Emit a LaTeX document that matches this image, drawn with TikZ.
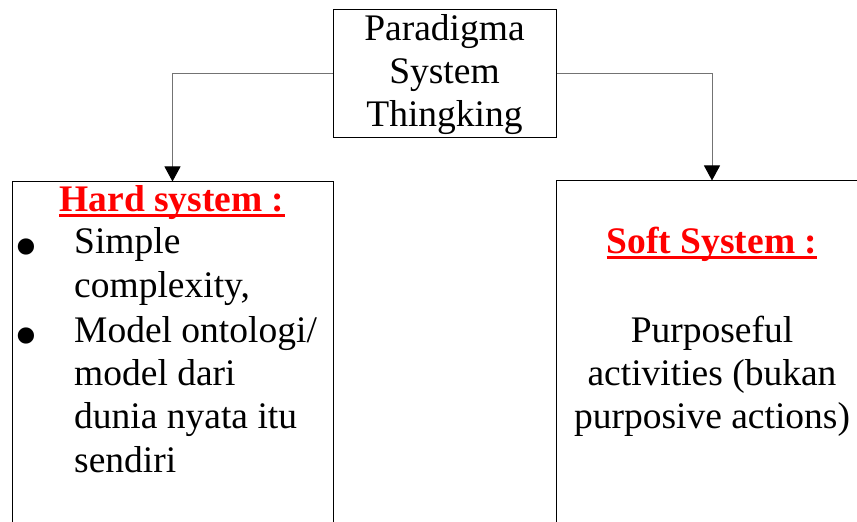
\documentclass[tikz,border=0pt]{standalone}
\usepackage{fontspec}
\setmainfont{Liberation Serif}
\usetikzlibrary{arrows.meta}
\tikzset{
	box/.style = {draw, line width = 1pt, inner sep = 0pt},
	txt/.style = {inner sep = 0pt, font = \fontsize{37.5}{43.5}\selectfont},
	head/.style = {txt, text = red, font = \fontsize{37.5}{43.5}\selectfont\bfseries},
	dot/.style = {inner sep = 0pt, font = \fontsize{68}{68}\selectfont},
	uline/.style = {draw = red, line width = 3pt},
	link/.style = {draw = gray!90!black, line width = 1pt, -{Triangle[width = 16pt, length = 15pt, color = black]}}
}
\begin{document}
\begin{tikzpicture}[x = 1pt, y = 1pt]
		\useasboundingbox (0,0) rectangle (857,522);
		% boxes
		\node[box, minimum width = 223pt, minimum height = 128pt] (paradigma) at (444.5,448.2) {};
		\node[box, minimum width = 321pt, minimum height = 400pt] (hard) at (172.5,140) {};
		\node[box, minimum width = 312pt, minimum height = 400pt] (soft) at (712,141) {};
		\draw[link] (paradigma.west) -| (hard.north);
		\draw[link] (paradigma.east) -| (soft.north);
		% top box
		\node[txt, anchor = base] (t1) at (444.5,481) {Paradigma};
		\node[txt, anchor = base] (t2) at (444.5,438) {System};
		\node[txt, anchor = base] (t3) at (444.5,395) {Thingking};
		% hard system
		\node[head, anchor = base] (hardhead) at (172,310) {Hard system :};
		\draw[uline] ([yshift = -4pt]hardhead.base west) -- ([yshift = -4pt]hardhead.base east);
		\node[dot] (b1) at (26,268) {\textbullet};
		\node[dot] (b2) at (26,179) {\textbullet};
		\node[txt, anchor = base west] (h1) at (74,268) {Simple};
		\node[txt, anchor = base west] (h2) at (74,224) {complexity,};
		\node[txt, anchor = base west] (h3) at (74,179) {Model ontologi/};
		\node[txt, anchor = base west] (h4) at (74,136) {model dari};
		\node[txt, anchor = base west] (h5) at (74,93) {dunia nyata itu};
		\node[txt, anchor = base west] (h6) at (74,49) {sendiri};
		% soft system
		\node[head, anchor = base] (softhead) at (712,268) {Soft System :};
		\draw[uline] ([yshift = -4pt]softhead.base west) -- ([yshift = -4pt]softhead.base east);
		\node[txt, anchor = base] (s1) at (712,179) {Purposeful};
		\node[txt, anchor = base] (s2) at (712,136) {activities (bukan};
		\node[txt, anchor = base] (s3) at (712,93) {purposive actions)};
	\end{tikzpicture}
\end{document}
